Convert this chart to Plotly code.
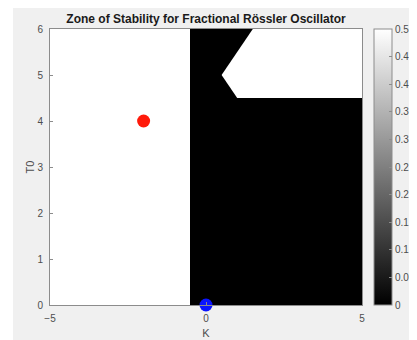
import plotly.graph_objects as go

# Stability map data
K_edges = [-5, -0.5, 5]          # K boundaries of the two base zones
T0_edges = [0, 6]                # T0 boundaries
zone_values = [[0.5, 0.0]]       # 0.5 = white (unstable), 0 = black (stable)

# Unstable (white) notch inside the black zone, polygon vertices
notch_K = [1.5, 0.5, 1.0, 5.0, 5.0, 1.5]
notch_T0 = [6.0, 5.0, 4.5, 4.5, 6.0, 6.0]

# Marked points
red_K, red_T0 = [-2], [4]
blue_K, blue_T0 = [0], [0]

cb_ticks = [0, 0.05, 0.1, 0.15, 0.2, 0.25, 0.3, 0.35, 0.4, 0.45, 0.5]

font = "Liberation Sans, Arial, Helvetica, sans-serif"
tick_col = "#4d4d4d"

W, H = 409, 332            # page adds an 8px body margin
L, R, T, B = 42, 55, 21, 35

fig = go.Figure()
fig.add_trace(go.Heatmap(
    x=K_edges, y=T0_edges, z=zone_values,
    zmin=0, zmax=0.5,
    colorscale=[[0, "black"], [1, "white"]],
    hoverinfo="skip",
    colorbar=dict(
        x=1.0385, xanchor="left", xpad=0, y=0.5, yanchor="middle", len=1, ypad=0,
        lenmode="fraction", thickness=18, thicknessmode="pixels",
        outlinecolor="#8c8c8c", outlinewidth=1,
        tickvals=cb_ticks, ticktext=[str(t) for t in cb_ticks],
        ticks="inside", ticklen=3, tickcolor="#8c8c8c",
        tickfont=dict(family=font, size=10, color=tick_col),
    ),
))
fig.add_trace(go.Scatter(
    x=notch_K, y=notch_T0, mode="lines", fill="toself",
    fillcolor="white", line=dict(width=0, color="white"),
    hoverinfo="skip", showlegend=False,
))
fig.add_trace(go.Scatter(
    x=red_K, y=red_T0, mode="markers",
    marker=dict(size=13, color="#ff1a0a"), showlegend=False, cliponaxis=False,
))
fig.add_trace(go.Scatter(
    x=blue_K, y=blue_T0, mode="markers",
    marker=dict(size=13, color="#0a14ff"), showlegend=False, cliponaxis=False,
))

axis_common = dict(
    showgrid=False, zeroline=False, mirror=True, showline=True,
    linecolor="#8c8c8c", linewidth=1, ticks="inside", ticklen=3,
    tickcolor="#8c8c8c", tickfont=dict(family=font, size=10, color=tick_col),
    ticklabelstandoff=4,
)
fig.update_layout(
    width=W, height=H,
    margin=dict(l=L, r=R, t=T, b=B, autoexpand=False),
    paper_bgcolor="#f0f0f0", plot_bgcolor="white",
    showlegend=False,
    title=dict(
        text="<b>Zone of Stability for Fractional Rössler Oscillator</b>",
        x=(L + (W - R)) / 2 / W, xanchor="center", y=1 - 11 / H, yanchor="middle",
        font=dict(family=font, size=12, color="#1a1a1a"),
    ),
    xaxis=dict(range=[-5, 5], tickvals=[-5, 0, 5], automargin=False,
               title=dict(text="K", font=dict(family=font, size=11, color=tick_col), standoff=6),
               **axis_common),
    yaxis=dict(range=[0, 6], tickvals=[0, 1, 2, 3, 4, 5, 6], automargin=False,
               title=dict(text="T0", font=dict(family=font, size=11, color=tick_col), standoff=0),
               **axis_common),
    shapes=[dict(type="rect", xref="paper", yref="paper", layer="below",
                 x0=-L / (W - L - R), x1=-(L - 5) / (W - L - R), y0=-B / (H - T - B),
                 y1=1 + T / (H - T - B), fillcolor="white", line=dict(width=0))],
)

fig.write_html("out.html")
